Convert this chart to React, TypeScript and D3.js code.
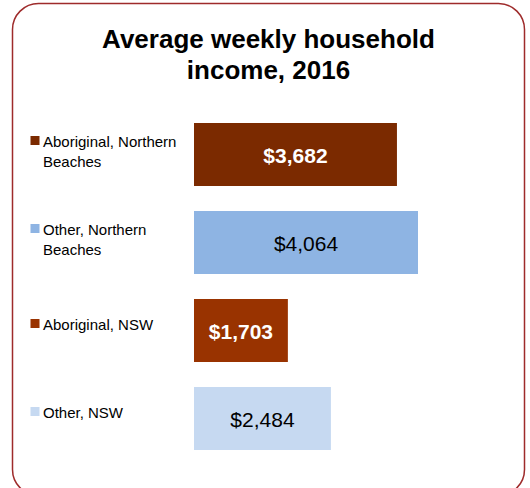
import React from 'react';
import * as d3 from 'd3';

// chart data
const categories = ['Aboriginal, Northern Beaches', 'Other, Northern Beaches', 'Aboriginal, NSW', 'Other, NSW'];
const labelLines = [['Aboriginal, Northern', 'Beaches'], ['Other, Northern', 'Beaches'], ['Aboriginal, NSW'], ['Other, NSW']];
const values = [3682, 4064, 1703, 2484];
const barColors = ['#7B2A00', '#8EB4E3', '#993300', '#C6D9F1'];
const darkBar = [true, false, true, false];

const W = 530;
const H = 488;

export default function App() {
  const x = d3.scaleLinear().domain([0, d3.max(values) as number]).range([194, 418]);
  const y = d3.scaleBand<string>()
    .domain(categories)
    .range([110.5, 462.5])
    .paddingInner(25 / 88)
    .paddingOuter(12.5 / 88);
  const fmt = d3.format(',');

  return (
    <div style={{ position: 'absolute', left: 0, top: 0 }}>
      <svg width={W} height={H} style={{ display: 'block', fontFamily: 'Liberation Sans, Arial, sans-serif' }}>
        <rect x={0} y={0} width={W} height={H} fill="#fff" />
        <rect x={12.5} y={3.5} width={512} height={492} rx={26} ry={26} fill="none" stroke="#9E2B2B" strokeWidth={1.5} />

        <text x={268.5} y={47.5} textAnchor="middle" fontSize={26} fontWeight="bold" fill="#000">
          Average weekly household
        </text>
        <text x={268.5} y={78.5} textAnchor="middle" fontSize={26} fontWeight="bold" fill="#000">
          income, 2016
        </text>

        {categories.map((c, i) => {
          const y0 = y(c) as number;
          const cy = y0 + y.bandwidth() / 2;
          const lines = labelLines[i];
          const base = lines.length > 1 ? cy - 8 : cy - 1;
          return (
            <g key={c}>
              <rect x={x(0)} y={y0} width={x(values[i]) - x(0)} height={y.bandwidth()} fill={barColors[i]} />
              <text
                x={(x(0) + x(values[i])) / 2}
                y={cy + 8}
                textAnchor="middle"
                fontSize={21}
                fontWeight={darkBar[i] ? 'bold' : 'normal'}
                fill={darkBar[i] ? '#fff' : '#000'}
              >
                {'$' + fmt(values[i])}
              </text>
              <rect x={30.5} y={base - 10.5} width={9} height={9} fill={barColors[i]} />
              {lines.map((ln, j) => (
                <text key={j} x={43} y={base + j * 20.5} fontSize={15} fill="#000">
                  {ln}
                </text>
              ))}
            </g>
          );
        })}
      </svg>
    </div>
  );
}
